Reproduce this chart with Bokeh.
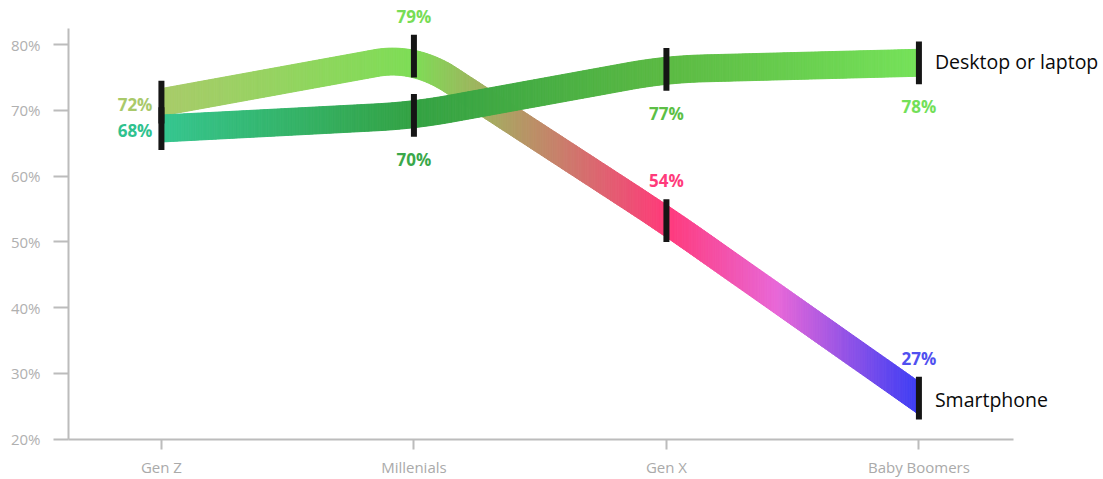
import numpy as np
from bokeh.plotting import figure
from bokeh.models import FixedTicker, Range1d
from bokeh.embed import file_html
from bokeh.resources import INLINE
from bokeh.core.properties import value

# ---------------- data ----------------
generations = ["Gen Z", "Millenials", "Gen X", "Baby Boomers"]
smartphone = [72, 79, 54, 27]
desktop = [68, 70, 77, 78]
series_names = ["Smartphone", "Desktop or laptop"]
y_ticks = [20, 30, 40, 50, 60, 70, 80]
y_tick_labels = ["20%", "30%", "40%", "50%", "60%", "70%", "80%"]

# ---------------- styles ----------------
smart_stops_x = [0, 1, 2, 2.44, 3]
smart_stops_c = ["#a9cb6a", "#7edd56", "#ff3a7a", "#e868d8", "#3c3ef5"]
desk_stops_x = [0, 1, 2, 3]
desk_stops_c = ["#36c690", "#34a244", "#5cba44", "#76e25a"]
smart_label_colors = ["#a9c96a", "#77dd55", "#ff3b7b", "#5050f0"]
desk_label_colors = ["#2fc28e", "#3aa84a", "#5cbf45", "#72e058"]
smart_place = ["left", "above", "above", "above"]
desk_place = ["left", "below", "below", "below"]

W, H = 1103, 479
BL, BB = 68, 39
X0, X1 = -0.368, 3.731
Y0, Y1 = 19.95, 86.72
FW, FH = W - BL, H - BB
PX = FW / (X1 - X0)
PY = FH / (Y1 - Y0)
SHIFT = -0.75
RIB_W = 27
CORNER = 0.15
AXIS_C = "#bcbcbc"

p = figure(width=W, height=H, x_range=Range1d(X0, X1), y_range=Range1d(Y0, Y1),
           output_backend="svg", toolbar_location=None,
           min_border_left=BL, min_border_right=0, min_border_top=0, min_border_bottom=BB)
p.outline_line_color = None
p.xgrid.visible = False
p.ygrid.visible = False
p.background_fill_color = "white"
p.border_fill_color = "white"

# axes
ya = p.yaxis[0]
ya.ticker = FixedTicker(ticks=y_ticks)
ya.major_label_overrides = {t: l for t, l in zip(y_ticks, y_tick_labels)}
ya.major_tick_out = 15
ya.major_tick_in = 0
ya.minor_tick_out = 0
ya.minor_tick_in = 0
ya.axis_line_color = AXIS_C
ya.axis_line_width = 2
ya.major_tick_line_color = AXIS_C
ya.major_tick_line_width = 2
ya.major_label_text_color = "#b0b0b0"
ya.major_label_text_font = "Open Sans"
ya.major_label_text_font_size = "15px"
ya.major_label_standoff = 13
ya.bounds = (20, 82.45)

xa = p.xaxis[0]
xa.ticker = FixedTicker(ticks=list(range(len(generations))))
xa.major_label_overrides = {i: g for i, g in enumerate(generations)}
xa.major_tick_out = 10
xa.major_tick_in = 0
xa.minor_tick_out = 0
xa.minor_tick_in = 0
xa.axis_line_color = AXIS_C
xa.axis_line_width = 2
xa.major_tick_line_color = AXIS_C
xa.major_tick_line_width = 2
xa.major_label_text_color = "#aaaaaa"
xa.major_label_text_font = "Open Sans"
xa.major_label_text_font_size = "15px"
xa.major_label_standoff = 7
xa.bounds = (X0, 3.374)


def hex2rgb(h):
    h = h.lstrip("#")
    return np.array([int(h[i:i + 2], 16) for i in (0, 2, 4)], dtype=float)


def color_at(x, sx, sc):
    rgbs = np.array([hex2rgb(c) for c in sc])
    r = np.interp(x, sx, rgbs[:, 0])
    g = np.interp(x, sx, rgbs[:, 1])
    b = np.interp(x, sx, rgbs[:, 2])
    return "#%02x%02x%02x" % (int(round(r)), int(round(g)), int(round(b)))


def rounded_path(vals, n=540, r=CORNER):
    v = np.array(vals, dtype=float)
    k = len(v)
    xi = np.arange(k, dtype=float)
    x = np.linspace(0, k - 1, n)
    y = np.interp(x, xi, v)
    for i in range(1, k - 1):
        mask = np.abs(x - i) <= r
        ya_ = np.interp(i - r, xi, v)
        yb_ = np.interp(i + r, xi, v)
        t = (x[mask] - (i - r)) / (2 * r)
        y[mask] = (1 - t) ** 2 * ya_ + 2 * t * (1 - t) * v[i] + t ** 2 * yb_
    return x, y


def ribbon(vals, sx, sc):
    x, y = rounded_path(vals)
    y = y + SHIFT
    dydx = np.gradient(y, x) * PY / PX
    half = (RIB_W / 2) * np.sqrt(1 + dydx ** 2) / PY
    qx, qy, cols = [], [], []
    for i in range(len(x) - 1):
        qx.append([x[i], x[i + 1], x[i + 1], x[i]])
        qy.append([y[i] + half[i], y[i + 1] + half[i + 1], y[i + 1] - half[i + 1], y[i] - half[i]])
        cols.append(color_at((x[i] + x[i + 1]) / 2, sx, sc))
    p.patches(qx, qy, fill_color=cols, line_color=cols, line_width=1)


ribbon(smartphone, smart_stops_x, smart_stops_c)
ribbon(desktop, desk_stops_x, desk_stops_c)

# bars
for vals in (smartphone, desktop):
    xs = list(range(len(vals)))
    p.segment(x0=xs, y0=[v + SHIFT + 3.25 for v in vals], x1=xs,
              y1=[v + SHIFT - 3.25 for v in vals], line_width=6,
              line_color="#151515", line_cap="butt")

# value labels
OFF = {"left": (-9, 7, "right"), "above": (0, -35, "center"), "below": (0, 49, "center")}
for vals, cols, places in ((smartphone, smart_label_colors, smart_place),
                           (desktop, desk_label_colors, desk_place)):
    for i, (v, c, pl) in enumerate(zip(vals, cols, places)):
        dx, dy, al = OFF[pl]
        p.text(x=[i], y=[v], text=[f"{v}%"], x_offset=dx, y_offset=dy,
               text_align=al, text_baseline="middle", text_color=c,
               text_font=value("Open Sans"), text_font_style="bold",
               text_font_size="17px")

# series labels
last = len(generations) - 1
for name, vals, dy in ((series_names[0], smartphone, 6), (series_names[1], desktop, 4)):
    p.text(x=[last], y=[vals[-1]], text=[name], x_offset=16, y_offset=dy,
           text_align="left", text_baseline="middle", text_color="#0a0a0a",
           text_font=value("Open Sans"), text_font_size="19.5px")

open("out.html", "w").write(file_html(p, INLINE))
